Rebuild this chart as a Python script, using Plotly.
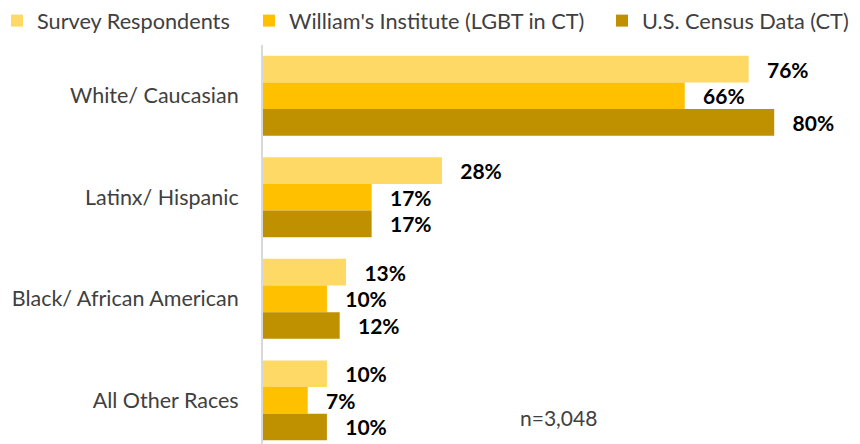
import plotly.graph_objects as go

categories = ["White/ Caucasian", "Latinx/ Hispanic", "Black/ African American", "All Other Races"]
survey = [76, 28, 13, 10]
williams = [66, 17, 10, 7]
census = [80, 17, 12, 10]
series_names = ["Survey Respondents", "William's Institute (LGBT in CT)", "U.S. Census Data (CT)"]
colors = ["#FFD966", "#FFC000", "#BF9000"]
note = "n=3,048"

FONT = "Lato"
W, H = 860, 444
L, R, T, B = 263, 20, 45, 0
PW, PH = W - L - R, H - T - B

def px_x(px):
    return (px - L) / PW

def px_y(py):
    return (H - B - py) / PH

fig = go.Figure()
legend_ids = ["legend", "legend2", "legend3"]
for name, vals, col, lg in zip(series_names, [survey, williams, census], colors, legend_ids):
    fig.add_trace(go.Bar(
        y=categories, x=vals, name=name, orientation="h",
        marker=dict(color=col, line=dict(width=0)),
        texttemplate="\u00a0\u00a0\u00a0%{x:.0f}%", textposition="outside",
        textfont=dict(family=FONT, size=21, color="#000000", weight="bold"),
        constraintext="none", cliponaxis=False, legend=lg, showlegend=True,
    ))

leg_common = dict(orientation="h", xanchor="left", yanchor="middle", visible=True,
                  font=dict(family=FONT, size=21.7, color="#404040"), bgcolor="rgba(0,0,0,0)",
                  borderwidth=0, itemclick=False, itemdoubleclick=False)
fig.update_layout(
    width=W, height=H, showlegend=True,
    margin=dict(l=L, r=R, t=T, b=B, pad=0, autoexpand=False),
    paper_bgcolor="white", plot_bgcolor="white",
    barmode="group", bargap=0.213, bargroupgap=0,
    font=dict(family=FONT, color="#404040"),
    legend=dict(x=px_x(-3), y=px_y(21), **leg_common),
    legend2=dict(x=px_x(249), y=px_y(21), **leg_common),
    legend3=dict(x=px_x(602), y=px_y(21), **leg_common),
    xaxis=dict(range=[0, PW / 6.39], visible=False, showgrid=False, zeroline=False),
    yaxis=dict(range=[3.43, -0.5], showgrid=False, zeroline=False,
               showline=True, linecolor="#D9D9D9", linewidth=2,
               ticks="", ticklabelstandoff=18,
               tickfont=dict(family=FONT, size=21.5, color="#404040")),
    annotations=[dict(text=note, xref="paper", yref="paper", x=px_x(518), y=px_y(417),
                      xanchor="left", yanchor="middle", showarrow=False,
                      font=dict(family=FONT, size=21, color="#404040"))],
)
fig.write_html("out.html", config={"displayModeBar": False},
               post_script="document.body.style.margin='0';")
